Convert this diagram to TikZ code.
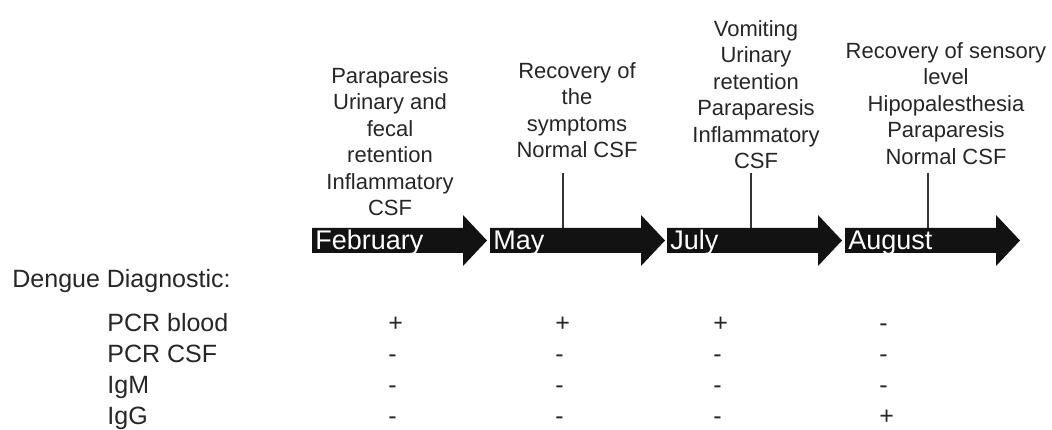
\documentclass[tikz,border=0pt]{standalone}
\usepackage{fontspec}
\setmainfont{Liberation Sans}
\tikzset{
  eventtext/.style={align=center, inner sep=0pt, anchor=north, text=black!85,
    font=\fontsize{22}{26.5}\selectfont},
  monthlabel/.style={anchor=base west, inner sep=0pt, text=white,
    font=\fontsize{27}{30}\selectfont},
  tablelabel/.style={anchor=base west, inner sep=0pt, text=black!85,
    font=\fontsize{25}{30}\selectfont},
  monthbar/.style={fill=black!93, draw=none},
}
\begin{document}
\begin{tikzpicture}[x=1pt, y=1pt, thick]
				\useasboundingbox (0,0) rectangle (1052,430);
				
				% 1. Timeline arrows with month labels
				\foreach \s/\n/\lab in {312/feb/February, 490/may/May, 667/jul/July, 845/aug/August}{
					\fill[monthbar] (\s,202) -- (\s+151,202) -- (\s+151,215) -- (\s+175,189.5)
						-- (\s+151,164) -- (\s+151,177) -- (\s,177) -- cycle;
					\node[monthlabel] (\n) at (\s+3,180) {\lab};
				}
				
				% 2. Clinical events above the timeline
				\node[eventtext] (evfeb) at (390,363) {Paraparesis\\Urinary and\\fecal\\retention\\Inflammatory\\CSF};
				\node[eventtext] (evmay) at (577,368) {Recovery of\\the\\symptoms\\Normal CSF};
				\node[eventtext] (evjul) at (756,410) {Vomiting\\Urinary\\retention\\Paraparesis\\Inflammatory\\CSF};
				\node[eventtext] (evaug) at (946,388) {Recovery of sensory\\level\\Hipopalesthesia\\Paraparesis\\Normal CSF};
				
				% 3. Tick lines from the events down to the arrows
				\foreach \n/\x in {may/563, jul/751, aug/928}{
					\coordinate (\n top) at (\x,257);
					\coordinate (\n bar) at (\x,202);
					\draw[line width=1.2pt, black!80] (\n top) -- (\n bar);
				}
				
				% 4. Dengue diagnostic table
				\node[tablelabel] (diag) at (12,142) {Dengue Diagnostic:};
				\foreach \lab/\y/\a/\b/\c/\d [count=\i] in {PCR blood/98/+/+/+/-, PCR CSF/67/-/-/-/-,
						IgM/36/-/-/-/-, IgG/5/-/-/-/+}{
					\node[tablelabel] (row\i) at (107,\y) {\lab};
					\node[tablelabel] (row\i feb) at (388,\y) {\a};
					\node[tablelabel] (row\i may) at (555,\y) {\b};
					\node[tablelabel] (row\i jul) at (713,\y) {\c};
					\node[tablelabel] (row\i aug) at (879,\y) {\d};
				}
			\end{tikzpicture}
\end{document}
